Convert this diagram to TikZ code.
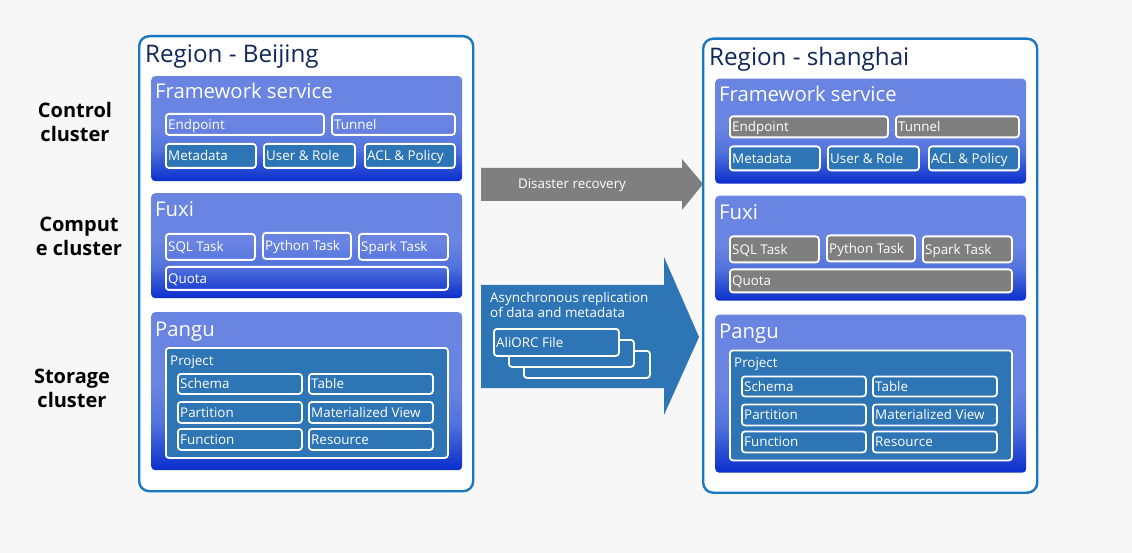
\documentclass[tikz,border=0pt]{standalone}
\usepackage{fontspec}
\setmainfont{Open Sans}
\definecolor{bg}{HTML}{F7F7F7}
\definecolor{regborder}{HTML}{1A78C2}
\definecolor{regtitle}{HTML}{10285A}
\definecolor{pTop}{HTML}{6A84E2}
\definecolor{pMid}{HTML}{5273DC}
\definecolor{pBot}{HTML}{0A2ECC}
\definecolor{itemblue}{HTML}{2E75B6}
\definecolor{itemgray}{HTML}{7F7F7F}
\pgfdeclareverticalshading{panelshade}{100bp}{color(0bp)=(pBot); color(25bp)=(pBot); color(40bp)=(pMid); color(52bp)=(pTop); color(75bp)=(pTop); color(100bp)=(pTop)}
\tikzset{
  region/.style={draw=regborder,line width=2.4pt,fill=white,rounded corners=10pt,anchor=north west,inner sep=0pt},
  regtxt/.style={anchor=base west,text=regtitle,font=\fontsize{24.2}{28}\selectfont,inner sep=0pt},
  panel/.style={shading=panelshade,rounded corners=4pt,anchor=north west,inner sep=0pt,minimum width=311},
  ptitle/.style={anchor=base west,text=white,font=\fontsize{20.3}{24}\selectfont,inner sep=0pt},
  item/.style={draw=white,line width=1.8pt,rounded corners=3pt,inner sep=0pt},
  clearitem/.style={item},
  grayitem/.style={item,fill=itemgray},
  blueitem/.style={item,fill=itemblue},
  itemlbl/.style={anchor=base west,text=white,font=\fontsize{13.4}{16}\selectfont,inner sep=0pt,xshift=3pt,yshift=-4.8pt},
  itemtxt/.style={text=white,font=\fontsize{13.4}{16}\selectfont,inner sep=0pt},
  sidelbl/.style={align=center,font=\bfseries\fontsize{20}{24}\selectfont,inner sep=0pt,text=black},
}
\newcommand\boxat[7][]{\node[#1,anchor=north west,minimum width={#5-#3},minimum height={#6-#4},label={[itemlbl]west:#7}] (#2) at (#3,#4) {};}
\newcommand\regionbody[2]{%
  \node[panel,minimum height=105] (#1fw) at (151,76) {};
  \node[ptitle] (#1fwt) at (155,99) {Framework service};
  \boxat[#2]{#1ep}{165}{113}{323}{134}{Endpoint}
  \boxat[#2]{#1tn}{331}{113}{454}{134}{Tunnel}
  \boxat[blueitem]{#1md}{165}{143}{255}{167}{Metadata}
  \boxat[blueitem]{#1ur}{263}{143}{354}{167}{User \& Role}
  \boxat[blueitem]{#1acl}{364}{143}{454}{167}{ACL \& Policy}
  \node[panel,minimum height=105] (#1fx) at (151,193) {};
  \node[ptitle] (#1fxt) at (155,217) {Fuxi};
  \boxat[#2]{#1sql}{165}{233}{254}{259}{SQL Task}
  \boxat[#2]{#1py}{262}{232}{350}{258}{Python Task}
  \boxat[#2]{#1sp}{358}{233}{447}{259}{Spark Task}
  \boxat[#2]{#1q}{165}{266}{447}{289}{Quota}
  \node[panel,minimum height=158] (#1pg) at (151,312) {};
  \node[ptitle] (#1pgt) at (155,336) {Pangu};
  \node[blueitem,anchor=north west,minimum width=282,minimum height=110] (#1pr) at (165,347) {};
  \node[itemtxt,anchor=base west] (#1prt) at (170,365) {Project};
  \boxat[blueitem]{#1sc}{177}{373}{301}{393}{Schema}
  \boxat[blueitem]{#1tb}{308}{373}{432}{393}{Table}
  \boxat[blueitem]{#1pt}{177}{401}{301}{422}{Partition}
  \boxat[blueitem]{#1mv}{308}{401}{432}{422}{Materialized View}
  \boxat[blueitem]{#1fn}{177}{428}{301}{449}{Function}
  \boxat[blueitem]{#1rs}{308}{428}{432}{449}{Resource}
}
\begin{document}
\begin{tikzpicture}[x=1pt,y=-1pt]
\fill[bg] (0,0) rectangle (1132,553);
\useasboundingbox (0,0) rectangle (1132,553);
% side labels
\node[sidelbl] (lc) at (75,122) {Control\\cluster};
\node[sidelbl] (lu) at (79,236) {Comput\\e cluster};
\node[sidelbl] (ls) at (72,388) {Storage\\cluster};
% left region
\node[region,minimum width=334,minimum height=455] (regL) at (138,35) {};
\node[regtxt] (regLt) at (145,63) {Region - Beijing};
\regionbody{L}{clearitem}
% right region
\begin{scope}[shift={(564,2.5)}]
\node[region,minimum width=334,minimum height=454] (regR) at (138,35) {};
\node[regtxt] (regRt) at (145,63) {Region - shanghai};
\regionbody{R}{grayitem}
\end{scope}
% disaster recovery arrow
\fill[itemgray] (481,168) -- (682,168) -- (682,159) -- (703,184) -- (682,210) -- (682,201) -- (481,201) -- cycle;
\node[text=white,font=\fontsize{13.4}{16}\selectfont,anchor=base,inner sep=0pt] (dr) at (572,189) {Disaster recovery};
% replication arrow
\fill[itemblue] (481,285) -- (664,285) -- (664,257) -- (699,337) -- (664,415) -- (664,388) -- (481,388) -- cycle;
\node[text=white,font=\fontsize{13.4}{16}\selectfont,anchor=base west,inner sep=0pt] (ar1) at (490,302) {Asynchronous replication};
\node[text=white,font=\fontsize{13.4}{16}\selectfont,anchor=base west,inner sep=0pt] (ar2) at (490,317) {of data and metadata};
\node[blueitem,anchor=north west,minimum width=126,minimum height=27] (f3) at (523,350) {};
\node[blueitem,anchor=north west,minimum width=125,minimum height=27] (f2) at (508,339) {};
\boxat[blueitem]{f1}{493}{328}{618}{355}{AliORC File}
\end{tikzpicture}
\end{document}
